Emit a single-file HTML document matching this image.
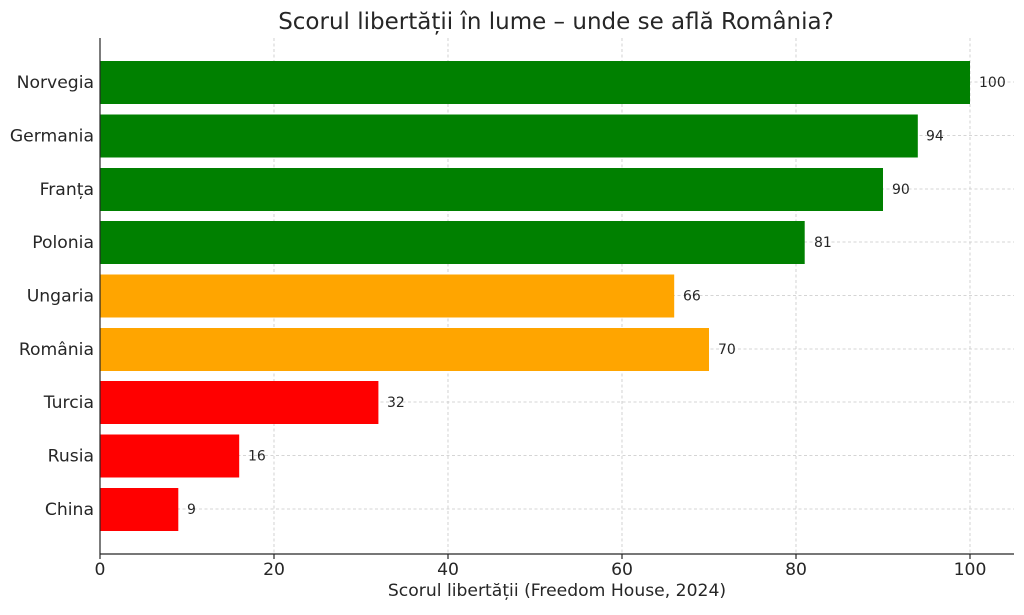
<!DOCTYPE html>
<html><head><meta charset="utf-8"><style>
body{margin:0;background:#fff;}
svg text{font-family:"DejaVu Sans","Liberation Sans",sans-serif;fill:#262626;}
</style></head><body>
<svg width="1024" height="610" xmlns="http://www.w3.org/2000/svg">
<rect width="1024" height="610" fill="#fff"/>
<text x="556" y="29" font-size="23" text-anchor="middle">Scorul libertății în lume – unde se află România?</text>
<g stroke="#c8c8c8" stroke-width="0.8" stroke-dasharray="3,2.5">
<line x1="274" y1="38" x2="274" y2="554"/><line x1="448" y1="38" x2="448" y2="554"/>
<line x1="622" y1="38" x2="622" y2="554"/><line x1="796" y1="38" x2="796" y2="554"/>
<line x1="970" y1="38" x2="970" y2="554"/>
<line x1="100" y1="82" x2="1014" y2="82"/><line x1="100" y1="135.5" x2="1014" y2="135.5"/>
<line x1="100" y1="189" x2="1014" y2="189"/><line x1="100" y1="242" x2="1014" y2="242"/>
<line x1="100" y1="295.5" x2="1014" y2="295.5"/><line x1="100" y1="349" x2="1014" y2="349"/>
<line x1="100" y1="402" x2="1014" y2="402"/><line x1="100" y1="455.5" x2="1014" y2="455.5"/>
<line x1="100" y1="509" x2="1014" y2="509"/>
</g>
<g>
<rect x="100" y="61" width="870" height="43" fill="#008000"/>
<rect x="100" y="114.5" width="817.8" height="43" fill="#008000"/>
<rect x="100" y="168" width="783" height="43" fill="#008000"/>
<rect x="100" y="221" width="704.7" height="43" fill="#008000"/>
<rect x="100" y="274.5" width="574.2" height="43" fill="#FFA500"/>
<rect x="100" y="328" width="609" height="43" fill="#FFA500"/>
<rect x="100" y="381" width="278.4" height="43" fill="#FF0000"/>
<rect x="100" y="434.5" width="139.2" height="43" fill="#FF0000"/>
<rect x="100" y="488" width="78.3" height="43" fill="#FF0000"/>
</g>
<g font-size="14">
<text x="979" y="87">100</text><text x="926" y="140.5">94</text><text x="892" y="194">90</text>
<text x="814" y="247">81</text><text x="683" y="300.5">66</text><text x="718" y="354">70</text>
<text x="387" y="407">32</text><text x="248" y="460.5">16</text><text x="187" y="514">9</text>
</g>
<g font-size="17.2" text-anchor="end">
<text x="94" y="88">Norvegia</text><text x="94" y="141.5">Germania</text><text x="94" y="195">Franța</text>
<text x="94" y="248">Polonia</text><text x="94" y="301.5">Ungaria</text><text x="94" y="355">România</text>
<text x="94" y="408">Turcia</text><text x="94" y="461.5">Rusia</text><text x="94" y="515">China</text>
</g>
<g stroke="#262626" stroke-width="1.2">
<line x1="100" y1="38" x2="100" y2="554"/><line x1="100" y1="554" x2="1014" y2="554"/>
<line x1="100" y1="554" x2="100" y2="559"/><line x1="274" y1="554" x2="274" y2="559"/>
<line x1="448" y1="554" x2="448" y2="559"/><line x1="622" y1="554" x2="622" y2="559"/>
<line x1="796" y1="554" x2="796" y2="559"/><line x1="970" y1="554" x2="970" y2="559"/>
</g>
<g font-size="17.2" text-anchor="middle">
<text x="100" y="575">0</text><text x="274" y="575">20</text><text x="448" y="575">40</text>
<text x="622" y="575">60</text><text x="796" y="575">80</text><text x="970" y="575">100</text>
</g>
<text x="557" y="596" font-size="17.2" text-anchor="middle">Scorul libertății (Freedom House, 2024)</text>
</svg>
</body></html>
